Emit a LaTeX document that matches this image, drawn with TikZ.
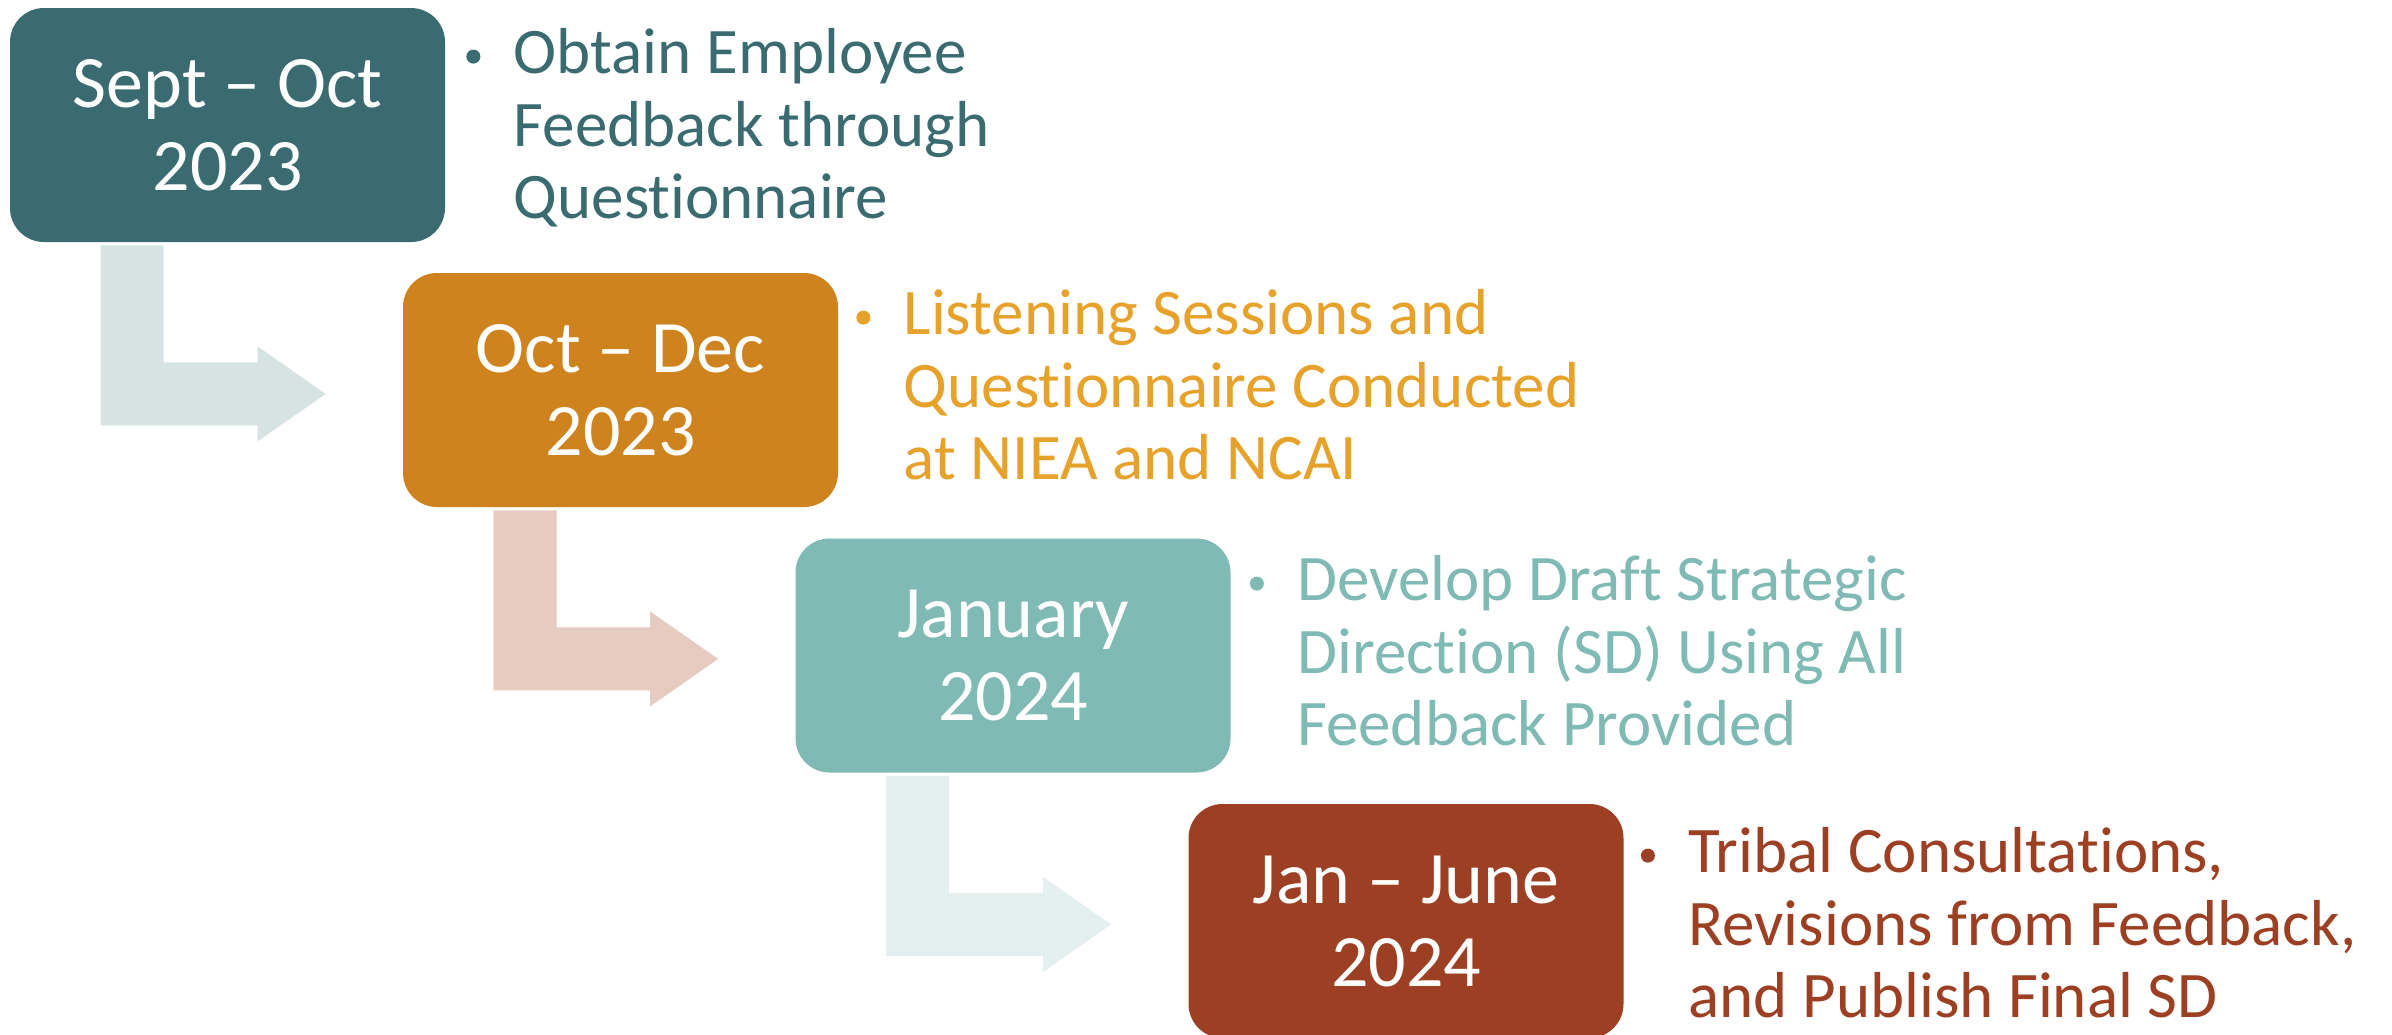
\documentclass[tikz,border=0pt]{standalone}
\usepackage{fontspec}
\setmainfont{Carlito}[Ligatures=NoCommon]
\usetikzlibrary{calc}

\definecolor{phaseA}{HTML}{396B70}
\definecolor{phaseB}{HTML}{CF831E}
\definecolor{phaseC}{HTML}{80BAB4}
\definecolor{phaseD}{HTML}{9C3F22}
\definecolor{noteB}{HTML}{E7A22B}
\definecolor{linkA}{HTML}{D7E3E2}
\definecolor{linkB}{HTML}{E5CBC0}
\definecolor{linkC}{HTML}{E3F0EF}

% bent block arrow from the bottom of one period box to the left of the next
\newcommand\bentconnector[3]{%
  \fill[#3] let \p1=(#1.south west), \p2=(#2.west) in
    (\x1+45.5pt,\y1-1.5pt) -- (\x1+77pt,\y1-1.5pt) -- (\x1+77pt,\y1-60pt)
    -- (\x2-72.5pt,\y1-60pt) -- (\x2-72.5pt,\y1-52pt)
    -- (\x2-38.5pt,\y1-75.75pt) -- (\x2-72.5pt,\y1-99.5pt)
    -- (\x2-72.5pt,\y1-91.5pt) -- (\x1+45.5pt,\y1-91.5pt) -- cycle;}

\begin{document}
\begin{tikzpicture}[x=0.5pt,y=-0.5pt,
  period/.style={rounded corners=17pt, minimum width=217.5pt, minimum height=117pt,
    inner sep=0pt, text=white, align=center, font=\fontsize{37}{41.5}\selectfont},
  % three-line notes; the base anchor sits on the last line
  note/.style={anchor=base west, align=left, inner sep=0pt,
    font=\fontsize{32.5}{36.25}\selectfont},
  dot/.style={circle, inner sep=0pt, minimum size=7pt}]

\fill[white] (0,0) rectangle (2392,1034);
\useasboundingbox (0,0) rectangle (2392,1034);

% period boxes
\node[period, fill=phaseA] (b1) at (227.5,125) {Sept – Oct\\2023};
\node[period, fill=phaseB] (b2) at (620.5,390) {Oct – Dec\\2023};
\node[period, fill=phaseC] (b3) at (1013,655.5) {January\\2024};
\node[period, fill=phaseD] (b4) at (1406,921) {Jan – June\\2024};

% connectors
\bentconnector{b1}{b2}{linkA}
\bentconnector{b2}{b3}{linkB}
\bentconnector{b3}{b4}{linkC}

% notes
\node[note, text=phaseA] (t1) at ($(b1.north east)+(68,211)$)
  {Obtain Employee\\Feedback through\\Questionnaire};
\node[note, text=noteB] (t2) at ($(b2.north east)+(65,207)$)
  {Listening Sessions and\\Questionnaire Conducted\\at NIEA and NCAI};
\node[note, text=phaseC] (t3) at ($(b3.north east)+(66,207.5)$)
  {Develop Draft Strategic\\Direction (SD) Using All\\Feedback Provided};
\node[note, text=phaseD] (t4) at ($(b4.north east)+(64,214)$)
  {Tribal Consultations,\\Revisions from Feedback,\\and Publish Final SD};

% bullets beside the first line of each note
\node[dot, fill=phaseA] (d1) at ($(t1.base west)+(-40,-162)$) {};
\node[dot, fill=noteB]  (d2) at ($(t2.base west)+(-40,-162)$) {};
\node[dot, fill=phaseC] (d3) at ($(t3.base west)+(-40,-162)$) {};
\node[dot, fill=phaseD] (d4) at ($(t4.base west)+(-40,-162)$) {};
\end{tikzpicture}
\end{document}
